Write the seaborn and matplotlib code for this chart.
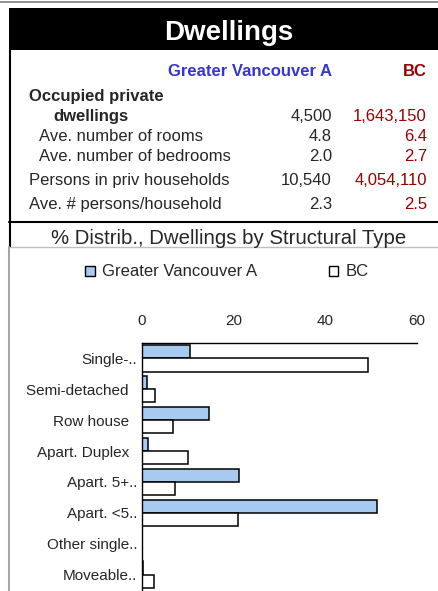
import matplotlib
matplotlib.use('Agg')
import matplotlib.pyplot as plt
from matplotlib.patches import Rectangle, Patch
from matplotlib.lines import Line2D
import seaborn as sns
import pandas as pd

sns.set_style('white')
plt.rcParams['font.family'] = ['Liberation Sans', 'DejaVu Sans']

# table values
area_names = ['Greater Vancouver A', 'BC']
row_labels = ['Ave. number of rooms', 'Ave. number of bedrooms',
              'Persons in priv households', 'Ave. # persons/household']
dwellings_vals = ['4,500', '1,643,150']
gva_vals = ['4.8', '2.0', '10,540', '2.3']
bc_vals = ['6.4', '2.7', '4,054,110', '2.5']

# bar chart values (% of dwellings)
types = ['Single-..', 'Semi-detached  ', 'Row house  ', 'Apart. Duplex  ',
         'Apart. 5+..', 'Apart. <5..', 'Other single..', 'Moveable..']
gva_pct = [10.5, 1.2, 14.7, 1.4, 21.2, 51.2, 0.2, 0.3]
bc_pct = [49.3, 3.0, 6.8, 10.2, 7.2, 21.1, 0.1, 2.7]

W, H = 439, 591
fig = plt.figure(figsize=(W / 100, H / 100), dpi=100)
fig.patch.set_facecolor('white')


def fx(x):
    return x / W


def fy(y):
    return 1 - y / H


def hline(y, x0, x1, color, lw):
    fig.add_artist(Line2D([fx(x0), fx(x1)], [fy(y), fy(y)], color=color, lw=lw,
                          transform=fig.transFigure))


def vline(x, y0, y1, color, lw):
    fig.add_artist(Line2D([fx(x), fx(x)], [fy(y0), fy(y1)], color=color, lw=lw,
                          transform=fig.transFigure))


blue = '#3535D0'
red = '#9A0000'

# frame lines
hline(1.5, 0, W, '#808080', 1.2)
fig.add_artist(Rectangle((fx(9), fy(50)), fx(W - 9), 42 / H, facecolor='black',
                         edgecolor='none', transform=fig.transFigure))
fig.text(fx(229), fy(39.5), 'Dwellings', color='white', fontsize=20,
         fontweight='bold', ha='center', va='baseline')
vline(10, 50, 247, 'black', 1.5)
vline(9, 247, H, '#A6A6A6', 1.5)
hline(222, 9, W, 'black', 1.5)
hline(247, 10, W, '#BFBFBF', 1.0)

# table
fs = 12
fig.text(fx(332), fy(76), area_names[0], color=blue, fontsize=fs,
         fontweight='bold', ha='right', va='baseline')
fig.text(fx(427), fy(76), area_names[1], color=red, fontsize=fs,
         fontweight='bold', ha='right', va='baseline')
fig.text(fx(29), fy(101), 'Occupied private', fontsize=fs, fontweight='bold',
         va='baseline')
fig.text(fx(53), fy(120.7), 'dwellings', fontsize=fs, fontweight='bold',
         va='baseline')
fig.text(fx(332), fy(120.7), dwellings_vals[0], fontsize=fs, ha='right',
         va='baseline')
fig.text(fx(427), fy(120.7), dwellings_vals[1], fontsize=fs, ha='right',
         va='baseline', color=red)

row_y = [141, 160.7, 185.3, 209.3]
row_x = [39, 39, 29, 29]
for lab, g, b, y, x in zip(row_labels, gva_vals, bc_vals, row_y, row_x):
    fig.text(fx(x), fy(y), lab, fontsize=fs, va='baseline')
    fig.text(fx(332), fy(y), g, fontsize=fs, ha='right', va='baseline')
    fig.text(fx(427), fy(y), b, fontsize=fs, ha='right', va='baseline',
             color=red)

fig.text(fx(228.5), fy(243.5), '% Distrib., Dwellings by Structural Type',
         fontsize=14.7, ha='center', va='baseline')

# bar chart
df = pd.DataFrame({
    'type': types * 2,
    'pct': gva_pct + bc_pct,
    'area': [area_names[0]] * len(types) + [area_names[1]] * len(types),
})
colors = {area_names[0]: '#A6CAF0', area_names[1]: 'white'}

ax = fig.add_axes([fx(141.5), fy(590), (417 - 141.5) / W, (590 - 343) / H])
sns.barplot(data=df, x='pct', y='type', hue='area', orient='h',
            palette=colors, edgecolor='black', linewidth=1.1, width=0.85,
            ax=ax, legend=False, saturation=1)
ax.set_xlim(0, 60)
ax.set_xticks([0, 20, 40, 60])
ax.xaxis.tick_top()
ax.tick_params(axis='x', length=0, pad=10.5, labelsize=11)
ax.tick_params(axis='y', length=0, pad=3, labelsize=11)
ax.set_xlabel('')
ax.set_ylabel('')
for side in ['right', 'bottom']:
    ax.spines[side].set_visible(False)
for side in ['top', 'left']:
    ax.spines[side].set_color('black')
    ax.spines[side].set_linewidth(1.0)
ax.set_facecolor('white')

handles = [Patch(facecolor=colors[n], edgecolor='black', linewidth=1.0)
           for n in area_names]
fig.legend(handles, area_names, loc='center', bbox_to_anchor=(fx(227), fy(272)),
           ncol=2, frameon=False, fontsize=12, handlelength=0.55,
           handleheight=0.55, handletextpad=0.45, columnspacing=4.3,
           borderpad=0, borderaxespad=0)

fig.savefig('out.png', dpi=100)
